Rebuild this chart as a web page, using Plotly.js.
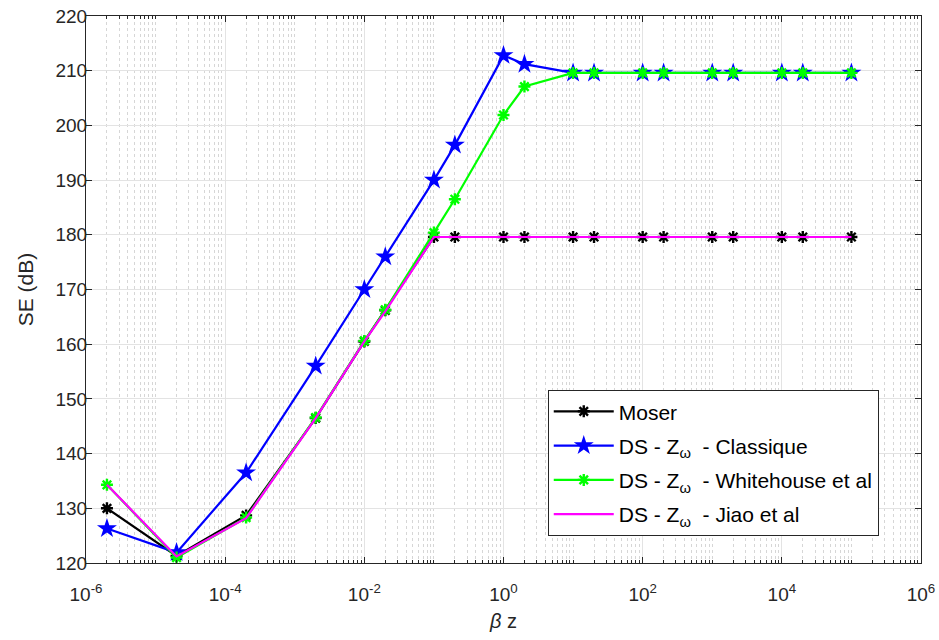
<!DOCTYPE html>
<html>
<head>
<meta charset="utf-8">
<script src="https://cdn.plot.ly/plotly-3.0.1.min.js"></script>
<style>html,body{margin:0;padding:0;background:#fff;}#chart{width:939px;height:640px;}</style>
</head>
<body>
<div id="chart"></div>
<script>
const betaZ = [2e-6, 2e-5, 2e-4, 2e-3, 1e-2, 2e-2, 1e-1, 2e-1, 1, 2, 10, 20, 100, 200, 1e3, 2e3, 1e4, 2e4, 1e5];
const moser      = [130.0, 121.3, 128.7, 146.5, 160.5, 166.2, 179.6, 179.6, 179.6, 179.6, 179.6, 179.6, 179.6, 179.6, 179.6, 179.6, 179.6, 179.6, 179.6];
const classique  = [126.3, 121.9, 136.5, 156.0, 170.0, 176.0, 190.0, 196.4, 212.8, 211.2, 209.6, 209.6, 209.6, 209.6, 209.6, 209.6, 209.6, 209.6, 209.6];
const whitehouse = [134.3, 121.0, 128.3, 146.6, 160.6, 166.3, 180.4, 186.5, 201.9, 207.1, 209.6, 209.6, 209.6, 209.6, 209.6, 209.6, 209.6, 209.6, 209.6];
const jiao       = [134.3, 121.2, 128.2, 146.5, 160.5, 166.0, 179.6, 179.6, 179.6, 179.6, 179.6, 179.6, 179.6, 179.6, 179.6, 179.6, 179.6, 179.6, 179.6];
const seriesNames = ['Moser', 'DS - Z<sub>ω</sub>  - Classique', 'DS - Z<sub>ω</sub>  - Whitehouse et al', 'DS - Z<sub>ω</sub>  - Jiao et al'];
const xTickVals = [1e-6, 1e-4, 1e-2, 1, 1e2, 1e4, 1e6];
const xTickText = ['10<sup>-6</sup>', '10<sup>-4</sup>', '10<sup>-2</sup>', '10<sup>0</sup>', '10<sup>2</sup>', '10<sup>4</sup>', '10<sup>6</sup>'];

// minor tick values on the log axis: 2..9 x 10^k and odd decades
const minorVals = [];
for (let k = -6; k < 6; k++) {
  for (let m = 1; m <= 9; m++) {
    const v = m * Math.pow(10, k);
    if (m === 1 && (k % 2 === 0)) continue;
    minorVals.push(v);
  }
}

const traces = [
  {x: betaZ, y: moser, name: seriesNames[0], legendgroup: 'g1', mode: 'lines+markers',
   line: {color: '#000000', width: 2.2},
   marker: {symbol: 'asterisk-open', size: 10, color: '#000000', line: {color: '#000000', width: 2.4}}},
  {x: betaZ, y: classique, name: seriesNames[1], legendgroup: 'g2', mode: 'lines+markers',
   line: {color: '#0000ff', width: 2.2},
   marker: {symbol: 'star', size: 15, color: '#0000ff', line: {width: 0}}},
  {x: betaZ, y: whitehouse, name: seriesNames[2], legendgroup: 'g3', mode: 'lines+markers',
   line: {color: '#00ff00', width: 2.2},
   marker: {symbol: 'asterisk-open', size: 10, color: '#00ff00', line: {color: '#00ff00', width: 2.4}}},
  {x: betaZ, y: jiao, name: seriesNames[3], legendgroup: 'g4', mode: 'lines',
   line: {color: '#ff00ff', width: 2.2}}
];

const axisCol = '#262626';
const layout = {
  width: 939, height: 640,
  margin: {l: 86, r: 18, t: 16, b: 77},
  paper_bgcolor: '#ffffff', plot_bgcolor: '#ffffff',
  font: {family: 'Liberation Sans, Arial, sans-serif', color: axisCol},
  showlegend: true,
  legend: {x: 0.553, y: 0.316, xanchor: 'left', yanchor: 'top',
    bgcolor: '#ffffff', bordercolor: '#262626', borderwidth: 1,
    font: {size: 21, color: '#000000'}, tracegroupgap: 4, itemwidth: 60},
  xaxis: {
    type: 'log', range: [-6, 6],
    tickmode: 'array', tickvals: xTickVals, ticktext: xTickText,
    tickfont: {size: 19, color: axisCol},
    ticks: 'inside', ticklen: 6, tickcolor: axisCol,
    ticklabelstandoff: 14,
    showline: true, linecolor: axisCol, linewidth: 1, mirror: 'ticks',
    showgrid: true, gridcolor: '#e3e3e3', gridwidth: 1,
    zeroline: false,
    minor: {tickmode: 'array', tickvals: minorVals, ticks: 'inside', ticklen: 3, tickcolor: axisCol,
            showgrid: true, gridcolor: '#d6d6d6', griddash: 'dot', gridwidth: 1},
    title: {text: '<i>β</i> z', font: {size: 20, color: axisCol}, standoff: 10}
  },
  yaxis: {
    range: [120, 220], dtick: 10, tick0: 120,
    tickfont: {size: 19, color: axisCol},
    ticks: 'inside', ticklen: 6, tickcolor: axisCol,
    ticklabelstandoff: -6,
    showline: true, linecolor: axisCol, linewidth: 1, mirror: 'ticks',
    showgrid: true, gridcolor: '#e3e3e3', gridwidth: 1,
    zeroline: false,
    title: {text: 'SE (dB)', font: {size: 21, color: axisCol}, standoff: 16}
  }
};

Plotly.newPlot('chart', traces, layout, {displayModeBar: false, staticPlot: true});
</script>
</body>
</html>
